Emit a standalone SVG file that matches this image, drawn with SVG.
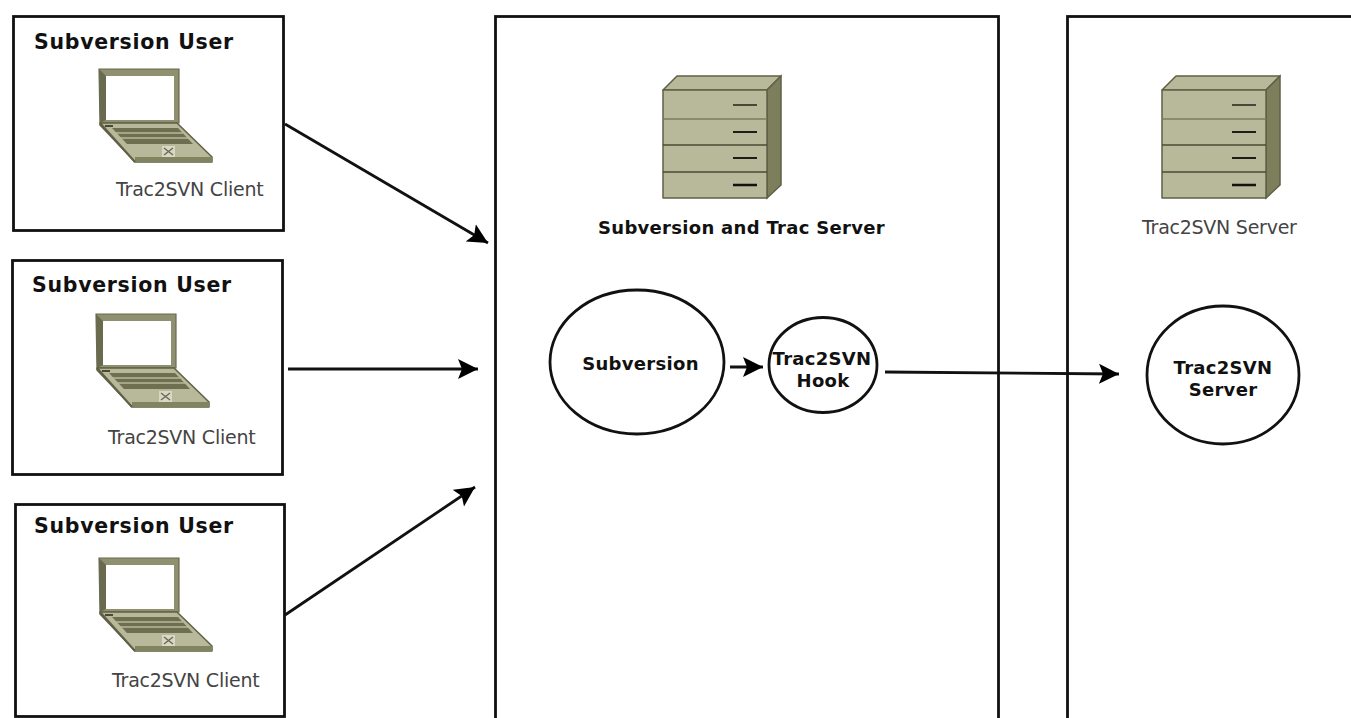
<svg xmlns="http://www.w3.org/2000/svg" width="1351" height="718" viewBox="0 0 1351 718">
<style>
.box{fill:#fff;stroke:#111;stroke-width:2.8}
.circ{fill:#fff;stroke:#111;stroke-width:2.8}
.b{font-family:"DejaVu Sans",sans-serif;font-weight:bold;font-size:18px;fill:#111;letter-spacing:.3px}
.u{font-size:20.500px;letter-spacing:.7px}
.c{font-family:"DejaVu Sans",sans-serif;font-size:19px;fill:#444;letter-spacing:-.25px}
.conn{fill:none;stroke:#111;stroke-width:2.8;marker-end:url(#arr)}
.body{fill:#b8b89a;stroke:#5f6045;stroke-width:1.5;stroke-linejoin:round}
</style>
<defs>
<marker id="arr" markerUnits="userSpaceOnUse" markerWidth="22" markerHeight="22" refX="20" refY="11" orient="auto">
<path d="M0 1L20 11L0 21L4 11Z" fill="#000"/>
</marker>
<g id="laptop">
<path d="M99 69H179V123H100Z" fill="#8f9070" stroke="#6a6b4e" stroke-width="1.2"/>
<path d="M99 69L106 76V120L100 123Z" fill="#6a6b4e"/>
<rect x="106" y="76" width="68" height="44" fill="#fff"/>
<path class="body" d="M100 123H177L212 157V162H135L100 125Z" fill="#bdbda2"/>
<path d="M135 157H212V162H135Z" fill="#82835f"/>
<path d="M100 123L135 162" stroke="#5f6045" stroke-width="2"/>
<path d="M105 125H113V127H105Z" fill="#4a4b35"/>
<path d="M112 128H178L193 144H127Z" fill="#6e6f50"/>
<path d="M116 133H183M120 138H188" stroke="#b8b89a" stroke-width="1.3"/>
<rect x="162" y="146" width="13" height="11" fill="#d8d8c6"/>
<path d="M164 148L173 155M173 148L164 155" stroke="#6a6b4e" stroke-width="1.4" fill="none"/>
</g>
<g id="server">
<path class="body" d="M663 90L677 76H781L767 90Z"/>
<path d="M767 90L781 76V185L767 198Z" fill="#7d7e5c" stroke="#5f6045" stroke-width="1.5"/>
<rect class="body" x="663" y="90" width="104" height="108"/>
<path d="M663 119H767" stroke="#7d7e5c" stroke-width="1.5"/>
<path d="M663 145H767M663 172H767" stroke="#4a4b35" stroke-width="1.5"/>
<path d="M733 105H757" stroke="#33332a" stroke-width="1.7"/>
<path d="M733 132H757" stroke="#1e1e18" stroke-width="2"/>
<path d="M733 158H757" stroke="#1e1e18" stroke-width="2"/>
<path d="M733 185H757" stroke="#111" stroke-width="2.5"/>
</g>
</defs>
<rect width="1351" height="718" fill="#fff"/>
<g id="user1">
<rect class="box" x="13.500" y="16.500" width="270" height="214"/>
<text class="b u" x="34" y="49">Subversion User</text>
<use href="#laptop"/>
<text class="c" x="116" y="196">Trac2SVN Client</text>
</g>
<g id="user2">
<rect class="box" x="12.500" y="260.500" width="270" height="214"/>
<text class="b u" x="32" y="292">Subversion User</text>
<use href="#laptop" x="-3" y="245"/>
<text class="c" x="108" y="444">Trac2SVN Client</text>
</g>
<g id="user3">
<rect class="box" x="15.500" y="504.500" width="269" height="212"/>
<text class="b u" x="34" y="533">Subversion User</text>
<use href="#laptop" y="489"/>
<text class="c" x="112" y="687">Trac2SVN Client</text>
</g>
<g id="trac-server">
<rect class="box" x="495.500" y="16.500" width="503" height="720"/>
<use href="#server"/>
<text class="b" x="598" y="234">Subversion and Trac Server</text>
</g>
<g id="t2s-server">
<rect class="box" x="1067.500" y="16.500" width="300" height="720"/>
<use href="#server" x="499"/>
<text class="c" x="1142" y="234">Trac2SVN Server</text>
</g>
<g id="subversion">
<ellipse class="circ" cx="637" cy="362" rx="87" ry="72"/>
<text class="b" x="640.500" y="370" text-anchor="middle">Subversion</text>
</g>
<g id="hook">
<ellipse class="circ" cx="823" cy="365" rx="54" ry="47.500"/>
<text class="b" x="822" y="365" text-anchor="middle">Trac2SVN</text>
<text class="b" x="823" y="387" text-anchor="middle">Hook</text>
</g>
<g id="t2s-circle">
<ellipse class="circ" cx="1223" cy="375" rx="76" ry="69"/>
<text class="b" x="1223" y="374" text-anchor="middle">Trac2SVN</text>
<text class="b" x="1223" y="396" text-anchor="middle">Server</text>
</g>
<g id="connectors">
<path class="conn" d="M285 124L488 243"/>
<path class="conn" d="M288 369H478"/>
<path class="conn" d="M285 615L475 487"/>
<path class="conn" d="M730 367H763"/>
<path class="conn" d="M885 372L1119 374"/>
</g>
</svg>
